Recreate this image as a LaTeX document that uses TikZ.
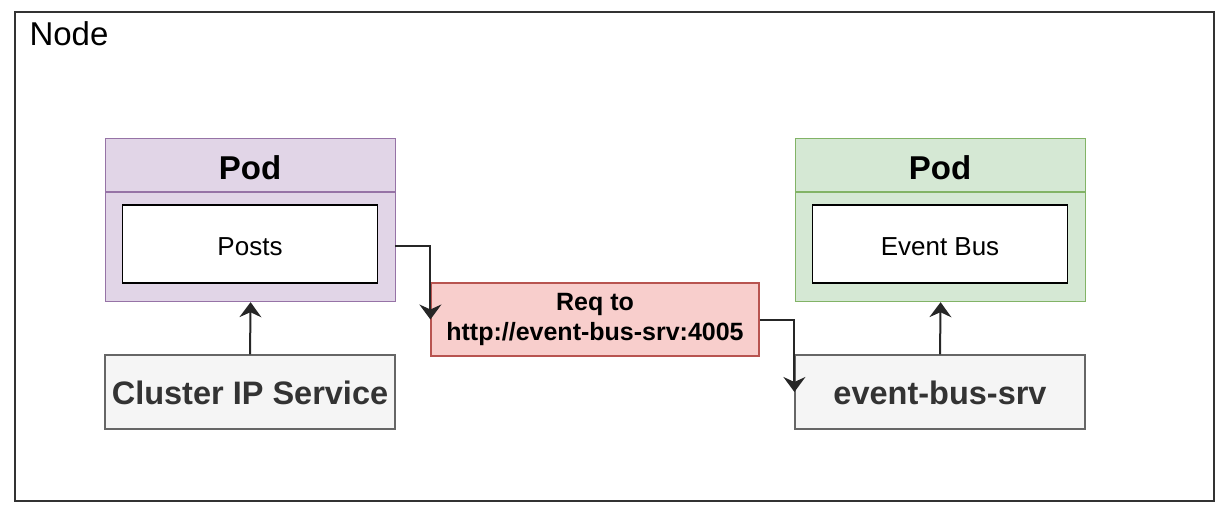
\documentclass[tikz,border=0pt]{standalone}
\usepackage{fontspec}
\setmainfont{Liberation Sans}
\usetikzlibrary{arrows.meta}
\definecolor{podpurple}{HTML}{E1D5E7}
\definecolor{podpurpleline}{HTML}{9673A6}
\definecolor{podgreen}{HTML}{D5E8D4}
\definecolor{podgreenline}{HTML}{82B366}
\definecolor{svcgrey}{HTML}{F5F5F5}
\definecolor{svcgreyline}{HTML}{666666}
\definecolor{svctext}{HTML}{333333}
\definecolor{reqred}{HTML}{F8CECC}
\definecolor{reqredline}{HTML}{B85450}
\tikzset{
  box/.style={rectangle, inner sep=0pt, line width=1.2pt},
  podbox/.style={box, minimum width=290pt, minimum height=163pt},
  innerbox/.style={box, draw=black, fill=white, line width=1.8pt, minimum width=255pt, minimum height=78pt,
    font=\fontsize{26}{30}\selectfont, text height=24pt, text depth=0pt},
  svcbox/.style={box, draw=svcgreyline, fill=svcgrey, minimum width=290pt, minimum height=74pt,
    font=\fontsize{32.5}{38}\selectfont\bfseries, text=svctext, text height=25pt, text depth=0pt},
  title/.style={font=\fontsize{33}{38}\selectfont\bfseries},
  arr/.style={line width=2pt, draw=black!85, -{Stealth[length=15pt,width=22pt,inset=5pt]}}
}
\begin{document}
\begin{tikzpicture}[x=1pt,y=1pt]
\useasboundingbox (0,0) rectangle (1224,-513);
\node[box, draw=black!80, line width=2pt, minimum width=1199pt, minimum height=489pt, anchor=north west] (frame) at (14,-11) {};
\node[anchor=west, font=\fontsize{33}{38}\selectfont] (nodelbl) at (26,-34) {Node};
% left pod
\node[podbox, draw=podpurpleline, fill=podpurple, anchor=north west] (pod1) at (105,-138) {};
\draw[podpurpleline, line width=1.2pt] (105,-192) -- (395,-192);
\node[title] (pod1t) at (250,-168) {Pod};
\node[innerbox] (posts) at (250,-244) {Posts};
\node[svcbox] (cip) at (250,-392) {Cluster IP Service};
% right pod
\node[podbox, draw=podgreenline, fill=podgreen, anchor=north west] (pod2) at (795,-138) {};
\draw[podgreenline, line width=1.2pt] (795,-192) -- (1085,-192);
\node[title] (pod2t) at (940,-168) {Pod};
\node[innerbox] (eb) at (940,-244) {Event Bus};
\node[svcbox] (ebs) at (940,-392) {event-bus-srv};
% request
\node[box, draw=reqredline, fill=reqred, minimum width=328pt, minimum height=73pt, align=center,
  font=\fontsize{25}{30}\selectfont\bfseries] (req) at (595,-319.5) {Req to\\http://event-bus-srv:4005};
% connectors
\draw[arr] (cip.north) -- (pod1.south);
\draw[arr] (ebs.north) -- (pod2.south);
\coordinate (p1out) at (395,-246);
\draw[arr] (p1out) -| (req.west);
\draw[arr] (req.east) -| (ebs.west);
\end{tikzpicture}
\end{document}
